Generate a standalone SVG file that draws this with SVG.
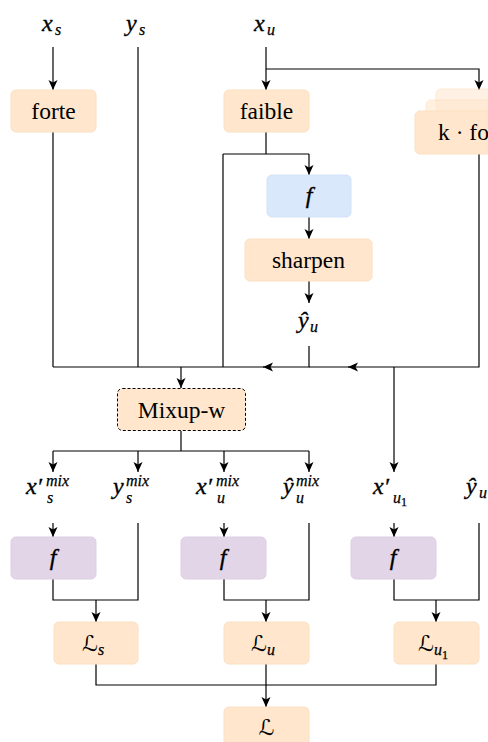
<svg xmlns="http://www.w3.org/2000/svg" width="488" height="742" viewBox="0 0 488 742">
<defs>
<marker id="ah" markerUnits="userSpaceOnUse" markerWidth="11" markerHeight="11" refX="10" refY="5" orient="auto">
<path d="M0,0.5 L10,5 L0,9.5 L2.5,5 Z" fill="#000"/>
</marker>
<style>
.box{fill:#ffe6cc;stroke:#fbe0c2;stroke-width:1}
.blue{fill:#dae8fc;stroke:#d3e2f8;stroke-width:1}
.purple{fill:#e1d5e7;stroke:#dccfe3;stroke-width:1}
.lbl{font-size:23.5px;fill:#000;text-anchor:middle}
.m{font-style:italic;font-size:24px;fill:#000;stroke:#000;stroke-width:0.35}
.ms{font-style:italic;font-size:16px;fill:#000;stroke:#000;stroke-width:0.25}
.cal{font-size:22px;fill:#000}
.c{fill:none;stroke:#000;stroke-width:1.2}
.a{fill:none;stroke:#000;stroke-width:1.2;marker-end:url(#ah)}
</style>
</defs>
<rect width="488" height="742" fill="#fff"/>

<g id="connectors">
<path class="a" d="M53,47 V90"/>
<path class="c" d="M53,132 V367"/>
<path class="c" d="M138,47 V367"/>
<path class="a" d="M266,47 V90"/>
<path class="a" d="M266,69 H479 V90"/>
<path class="c" d="M266,132 V154"/>
<path class="c" d="M223,154 H309"/>
<path class="a" d="M309,154 V175"/>
<path class="c" d="M223,154 V367"/>
<path class="a" d="M309,217 V239"/>
<path class="a" d="M309,281 V303"/>
<path class="a" d="M309,346 V367 H263"/>
<path class="a" d="M479,154 V367 H348"/>
<path class="c" d="M349,367 H309"/>
<path class="c" d="M264,367 H53"/>
<path class="a" d="M181,367 V388"/>
<path class="a" d="M394,367 V472"/>
<path class="c" d="M181,431 V451"/>
<path class="c" d="M53,451 H309"/>
<path class="a" d="M53,451 V472"/>
<path class="a" d="M138,451 V472"/>
<path class="a" d="M224,451 V472"/>
<path class="a" d="M309,451 V472"/>
<path class="a" d="M53,523 V537"/>
<path class="a" d="M224,523 V537"/>
<path class="a" d="M394,523 V537"/>
<path class="c" d="M53,579 V600 H138 V523"/>
<path class="c" d="M224,579 V600 H309 V523"/>
<path class="c" d="M394,579 V600 H479 V523"/>
<path class="a" d="M96,600 V622"/>
<path class="a" d="M266,600 V622"/>
<path class="a" d="M436,600 V622"/>
<path class="c" d="M96,664 V685 H436 V664"/>
<path class="a" d="M266,664 V707"/>
</g>

<g font-family="Liberation Serif, Times New Roman, DejaVu Serif, serif">
<g id="label-xs"><text class="m" x="42" y="31">x</text><text class="ms" x="55" y="35">s</text></g>
<g id="label-ys"><text class="m" x="126" y="31">y</text><text class="ms" x="139" y="35">s</text></g>
<g id="label-xu"><text class="m" x="254" y="31">x</text><text class="ms" x="267" y="35">u</text></g>

<g id="forte"><rect class="box" x="11" y="90" width="85" height="42" rx="5"/><text class="lbl" x="53.5" y="119">forte</text></g>
<g id="faible"><rect class="box" x="224" y="90" width="85" height="42" rx="5"/><text class="lbl" x="266.5" y="119">faible</text></g>
<g id="kforte">
<rect x="436" y="89" width="90" height="42" rx="5" fill="#ffe6cc" fill-opacity="0.55" stroke="#fbe0c2" stroke-opacity="0.6"/>
<rect x="426" y="100" width="90" height="42" rx="5" fill="#ffe6cc" fill-opacity="0.6" stroke="#fbe0c2" stroke-opacity="0.6"/>
<rect class="box" x="415" y="111" width="90" height="43" rx="5"/>
<text class="lbl" x="438" y="140" style="text-anchor:start">k · forte</text>
</g>

<g id="f-blue"><rect class="blue" x="267" y="175" width="84" height="42" rx="5"/><text class="m" x="309" y="203" text-anchor="middle">f</text></g>
<g id="sharpen"><rect class="box" x="245" y="239" width="127" height="42" rx="5"/><text class="lbl" x="308.5" y="268">sharpen</text></g>
<g id="label-yhat-u"><text class="m" x="298" y="328">ŷ</text><text class="ms" x="310" y="332">u</text></g>

<g id="mixup"><rect x="117.5" y="388.5" width="128" height="42" rx="5" fill="#ffe6cc" stroke="#000" stroke-width="1" stroke-dasharray="3,2"/><text class="lbl" x="181.5" y="418">Mixup-w</text></g>

<g id="label-xs-mix"><text class="m" x="26" y="494">x′</text><text class="ms" x="46" y="486">mix</text><text class="ms" x="47" y="503">s</text></g>
<g id="label-ys-mix"><text class="m" x="113" y="494">y</text><text class="ms" x="126" y="486">mix</text><text class="ms" x="126" y="503">s</text></g>
<g id="label-xu-mix"><text class="m" x="196" y="494">x′</text><text class="ms" x="216" y="486">mix</text><text class="ms" x="217" y="503">u</text></g>
<g id="label-yhat-u-mix"><text class="m" x="283" y="494">ŷ</text><text class="ms" x="296" y="486">mix</text><text class="ms" x="296" y="503">u</text></g>
<g id="label-xu1"><text class="m" x="373" y="494">x′</text><text class="ms" x="393" y="503">u</text><text class="ms" x="401" y="506" style="font-size:12px;font-style:normal">1</text></g>
<g id="label-yhat-u2"><text class="m" x="466" y="494">ŷ</text><text class="ms" x="479" y="498">u</text></g>

<g id="f1"><rect class="purple" x="11" y="537" width="85" height="42" rx="5"/><text class="m" x="53" y="565" text-anchor="middle">f</text></g>
<g id="f2"><rect class="purple" x="181" y="537" width="85" height="42" rx="5"/><text class="m" x="223" y="565" text-anchor="middle">f</text></g>
<g id="f3"><rect class="purple" x="351" y="537" width="85" height="42" rx="5"/><text class="m" x="393" y="565" text-anchor="middle">f</text></g>
</g>

<g font-family="DejaVu Serif, DejaVu Sans, serif">
<g id="Ls"><rect class="box" x="54" y="622" width="84" height="42" rx="5"/><text class="cal" x="82" y="651">ℒ</text><text class="ms" x="98" y="655" font-family="Liberation Serif, serif">s</text></g>
<g id="Lu"><rect class="box" x="224" y="622" width="85" height="42" rx="5"/><text class="cal" x="251" y="651">ℒ</text><text class="ms" x="267" y="655" font-family="Liberation Serif, serif">u</text></g>
<g id="Lu1"><rect class="box" x="394" y="622" width="85" height="42" rx="5"/><text class="cal" x="418" y="651">ℒ</text><text class="ms" x="434" y="655" font-family="Liberation Serif, serif">u</text><text class="ms" x="442" y="659" font-family="Liberation Serif, serif" style="font-size:12px;font-style:normal">1</text></g>
<g id="L"><rect class="box" x="224" y="707" width="85" height="42" rx="5"/><text class="cal" x="266.5" y="735" text-anchor="middle">ℒ</text></g>
</g>
</svg>
